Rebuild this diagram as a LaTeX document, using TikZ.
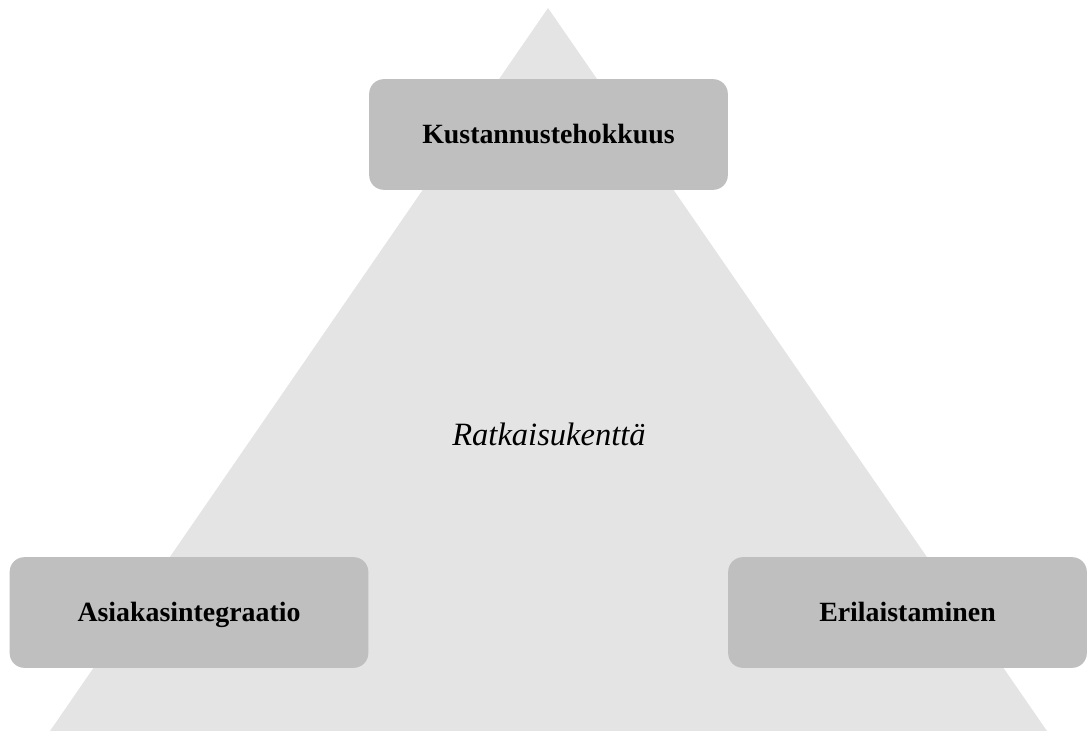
\documentclass[tikz,border=0pt]{standalone}
\usepackage{fontspec}
\setmainfont{Liberation Serif}
\definecolor{fieldgray}{HTML}{E4E4E4}
\definecolor{boxgray}{HTML}{BFBFBF}
\tikzset{
  goal/.style={fill=boxgray, draw=none, rounded corners=11pt,
    minimum width=269pt, minimum height=83pt, inner sep=0pt,
    text height=13.7pt, text depth=0pt,
    font=\bfseries\fontsize{20.9}{24}\selectfont},
}
\begin{document}
\begin{tikzpicture}[x=0.75pt,y=-0.75pt]
  \useasboundingbox (0,0) rectangle (1088,731);
  % solution field
  \fill[fieldgray] (548,8) -- (1047,731) -- (50,731) -- cycle;
  \node[anchor=base, font=\itshape\fontsize{24.4}{29}\selectfont] (field) at (549,445) {Ratkaisukenttä};
  % strategic goals
  \node[goal] (cost) at (548.5,134.5) {Kustannustehokkuus};
  \node[goal] (cust) at (189,612.5) {Asiakasintegraatio};
  \node[goal] (diff) at (907.5,612.5) {Erilaistaminen};
\end{tikzpicture}
\end{document}
